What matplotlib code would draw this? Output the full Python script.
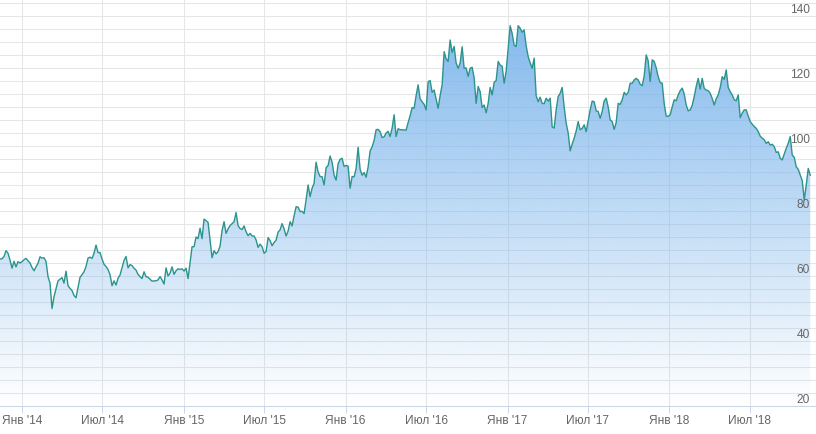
import numpy as np
import pandas as pd
import matplotlib
matplotlib.use("Agg")
import matplotlib.pyplot as plt
import matplotlib.dates as mdates
from matplotlib.ticker import MultipleLocator

plt.rcParams['font.family'] = ['Liberation Sans', 'DejaVu Sans']

# price series (evenly spaced in time)
START = "2013-11-12"
END = "2018-11-15"
prices = [
    65.2, 65.3, 66.0, 67.8, 67.0, 64.9, 62.4, 64.5, 62.8, 64.4,
    64.0, 64.4, 65.0, 65.4, 64.7, 64.0, 62.6, 61.6, 62.8, 63.9,
    65.9, 65.5, 65.6, 64.5, 59.8, 57.8, 50.0, 53.6, 56.0, 58.5,
    59.0, 59.5, 57.8, 61.5, 57.0, 56.2, 55.5, 54.0, 53.3, 56.5,
    59.6, 60.4, 61.3, 62.9, 65.5, 65.8, 65.4, 67.0, 69.5, 67.2,
    67.2, 65.2, 63.6, 62.9, 62.0, 60.4, 57.0, 58.5, 57.2, 59.3,
    60.3, 62.6, 64.8, 66.0, 62.5, 63.5, 63.2, 62.4, 61.8, 60.5,
    59.8, 59.2, 61.3, 59.8, 59.6, 59.0, 58.4, 58.5, 58.5, 58.8,
    59.8, 58.8, 57.5, 62.5, 60.0, 60.9, 62.8, 60.5, 61.6, 62.2,
    62.0, 62.2, 61.5, 62.4, 59.2, 64.0, 69.0, 69.0, 72.0, 71.5,
    74.7, 71.5, 77.5, 77.0, 76.5, 71.1, 65.6, 67.8, 66.8, 67.5,
    69.2, 74.0, 76.7, 73.1, 74.5, 75.5, 76.1, 76.7, 79.5, 75.5,
    74.6, 74.3, 75.4, 73.6, 72.4, 73.1, 72.3, 72.3, 71.1, 68.8,
    69.8, 69.0, 67.0, 67.5, 71.8, 70.9, 69.3, 70.3, 71.0, 73.5,
    74.2, 76.1, 74.5, 72.3, 73.8, 76.7, 75.4, 78.5, 81.3, 81.2,
    79.8, 79.9, 79.2, 83.4, 88.0, 84.4, 87.0, 88.5, 95.0, 92.0,
    90.6, 90.5, 88.0, 93.3, 94.0, 96.9, 95.0, 91.0, 89.5, 94.5,
    95.9, 96.2, 93.7, 94.0, 93.8, 87.0, 90.6, 90.5, 93.0, 99.6,
    92.8, 91.0, 91.8, 90.4, 93.5, 98.5, 99.7, 101.7, 105.0, 105.1,
    104.4, 102.6, 102.8, 104.0, 104.5, 102.9, 105.5, 109.6, 102.9, 105.3,
    105.0, 105.0, 104.9, 104.9, 107.2, 109.3, 111.8, 111.6, 115.5, 118.8,
    114.5, 113.6, 112.8, 111.1, 119.8, 120.1, 116.5, 117.2, 114.4, 111.6,
    115.5, 118.8, 129.0, 126.8, 126.0, 132.6, 128.8, 130.6, 125.5, 123.9,
    125.5, 130.5, 123.9, 124.0, 121.4, 123.9, 124.2, 121.0, 113.1, 118.3,
    116.7, 111.8, 112.6, 110.2, 113.1, 118.0, 115.7, 119.6, 120.1, 126.0,
    124.9, 124.5, 119.3, 123.0, 130.0, 137.0, 134.6, 131.0, 130.6, 137.0,
    136.2, 135.0, 135.7, 130.8, 127.5, 125.6, 123.9, 127.0, 115.5, 113.6,
    115.0, 113.1, 113.0, 114.7, 113.8, 114.7, 105.9, 105.5, 111.1, 115.2,
    116.2, 118.0, 112.0, 107.0, 104.0, 98.5, 100.6, 102.4, 104.6, 107.5,
    105.0, 105.4, 106.5, 104.4, 107.8, 111.1, 113.8, 113.6, 110.8, 110.6,
    108.5, 110.6, 113.8, 114.7, 112.0, 108.0, 107.5, 105.1, 107.2, 113.1,
    112.8, 114.2, 116.5, 115.7, 116.5, 119.3, 119.3, 120.3, 120.8, 120.3,
    119.0, 118.5, 121.5, 128.0, 126.2, 119.8, 126.5, 126.0, 124.0, 121.3,
    119.5, 119.3, 113.0, 109.2, 109.1, 109.6, 112.0, 114.2, 113.9, 115.7,
    117.0, 117.8, 116.0, 112.6, 110.8, 111.1, 112.5, 115.2, 118.3, 120.8,
    117.5, 120.8, 117.7, 117.2, 117.0, 116.2, 114.6, 112.6, 114.5, 115.7,
    118.0, 121.3, 120.5, 123.4, 118.0, 116.7, 115.7, 114.2, 113.9, 115.7,
    108.7, 110.1, 111.1, 111.1, 109.2, 107.5, 106.7, 106.0, 105.4, 104.4,
    103.0, 102.4, 101.9, 100.8, 101.3, 100.3, 100.5, 99.8, 98.0, 98.2,
    96.2, 95.7, 97.5, 99.3, 100.8, 102.9, 97.2, 96.5, 93.6, 92.8,
    91.1, 89.3, 83.4, 88.0, 93.1, 91.0,
]

tick_dates = ["2014-01-01", "2014-07-01", "2015-01-01", "2015-07-01",
              "2016-01-01", "2016-07-01", "2017-01-01", "2017-07-01",
              "2018-01-01", "2018-07-01"]
tick_labels = ["Янв '14", "Июл '14", "Янв '15", "Июл '15", "Янв '16",
               "Июл '16", "Янв '17", "Июл '17", "Янв '18", "Июл '18"]
y_labels = [20, 40, 60, 80, 100, 120, 140]

dates = pd.date_range(START, END, periods=len(prices))
x_end = pd.Timestamp("2018-11-28")
y_lo, y_hi = 20, 144.9

fig = plt.figure(figsize=(8.16, 4.34), dpi=100)
ax = fig.add_axes([0, 28 / 434, 1, 406 / 434])

# gradient fill under the line
base = np.array([124, 181, 236]) / 255.0
grad = np.zeros((256, 1, 4))
grad[:, 0, :3] = base
grad[:, 0, 3] = np.linspace(1.0, 0.0, 256)
x0 = mdates.date2num(pd.Timestamp(START))
x1 = mdates.date2num(x_end)
img = ax.imshow(grad, extent=[x0, x1, y_lo, y_hi], aspect='auto',
                origin='upper', zorder=1, interpolation='bicubic')
poly = ax.fill_between(dates, prices, y_lo, facecolor='none', edgecolor='none')
img.set_clip_path(poly.get_paths()[0], transform=ax.transData)

ax.plot(dates, prices, color='#2b948b', lw=1.0, zorder=3)

ax.set_xlim(pd.Timestamp(START), x_end)
ax.set_ylim(y_lo, y_hi)

# grid
ax.set_axisbelow(True)
ax.yaxis.set_major_locator(MultipleLocator(4))
ax.grid(axis='y', color='#e6e6e6', lw=0.75)
ax.tick_params(axis='y', left=False, labelleft=False)
ax.set_xticks(pd.to_datetime(tick_dates))
ax.set_xticklabels(tick_labels)
ax.grid(axis='x', color='#e6e6e6', lw=0.75)
ax.tick_params(axis='x', direction='out', length=5, width=0.75, color='#ccd6eb',
               labelcolor='#666666', labelsize=8.6, pad=1.5)

for s in ['top', 'left', 'right']:
    ax.spines[s].set_visible(False)
ax.spines['bottom'].set_color('#ccd6eb')
ax.spines['bottom'].set_linewidth(0.75)

for v in y_labels:
    ax.annotate(str(v), xy=(1, v), xycoords=('axes fraction', 'data'),
                xytext=(-4.5, 2.2), textcoords='offset points',
                ha='right', va='baseline', fontsize=8.6, color='#666666',
                annotation_clip=False, zorder=4)

fig.savefig("out.png", dpi=100)
